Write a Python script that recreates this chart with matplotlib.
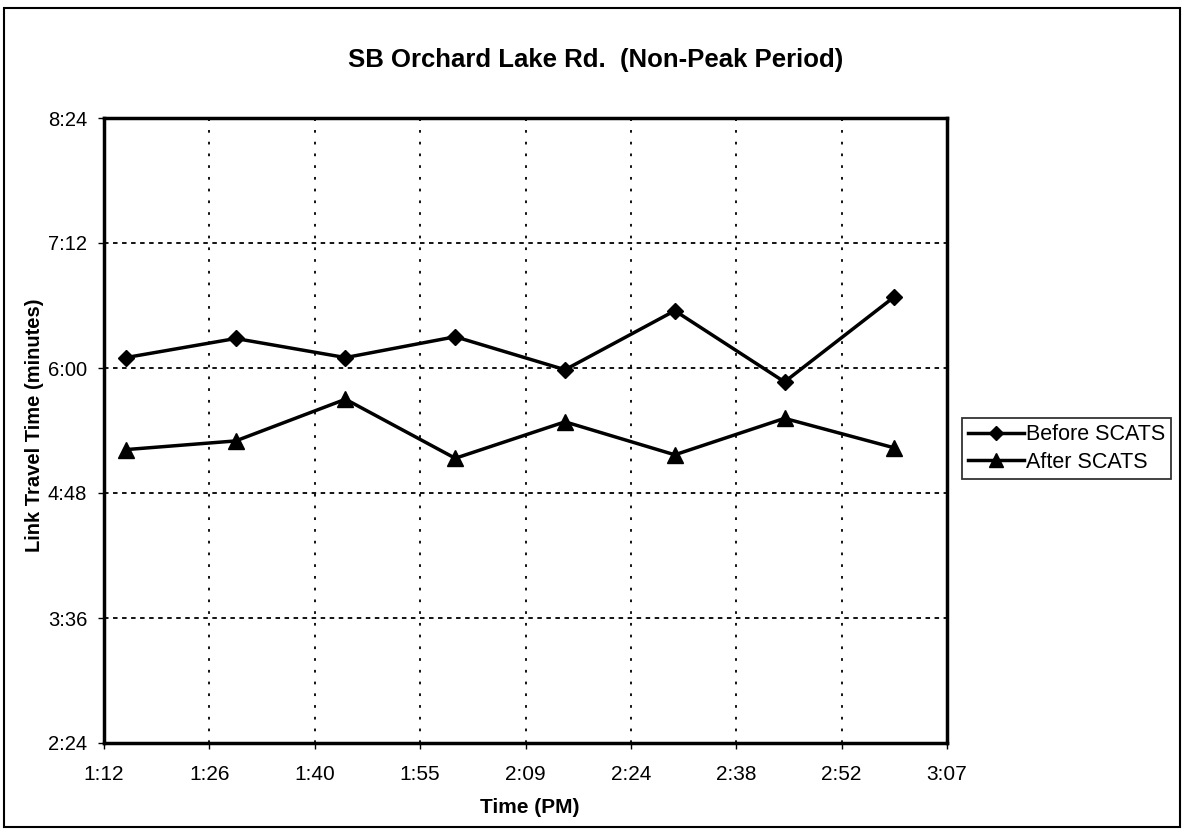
import matplotlib
matplotlib.use("Agg")
import matplotlib.pyplot as plt
from matplotlib.patches import Rectangle

# Data: x = minutes after 12:00 PM, y = link travel time in seconds
times_min = [75, 90, 105, 120, 135, 150, 165, 180]
before_scats = [366, 377, 366, 378, 359, 393, 352, 401]
after_scats = [313, 318, 342, 308, 329, 310, 331, 314]

x_ticks = [72, 86.4, 100.8, 115.2, 129.6, 144, 158.4, 172.8, 187.2]
x_tick_labels = ["1:12", "1:26", "1:40", "1:55", "2:09", "2:24", "2:38", "2:52", "3:07"]
y_ticks = [144, 216, 288, 360, 432, 504]
y_tick_labels = ["2:24", "3:36", "4:48", "6:00", "7:12", "8:24"]

plt.rcParams['font.family'] = ['Liberation Sans', 'DejaVu Sans']

W, H = 1184, 831
fig = plt.figure(figsize=(W / 100, H / 100), dpi=100)
ax = fig.add_axes([104 / W, 1 - 743 / H, (947 - 104) / W, (743 - 118) / H])

ax.plot(times_min, before_scats, color='black', lw=2.5, marker='D', ms=8.5,
        label='Before SCATS', clip_on=False)
ax.plot(times_min, after_scats, color='black', lw=2.5, marker='^', ms=12,
        label='After SCATS', clip_on=False)

ax.set_xlim(x_ticks[0], x_ticks[-1])
ax.set_ylim(y_ticks[0], y_ticks[-1])
ax.set_xticks(x_ticks)
ax.set_xticklabels(x_tick_labels, fontsize=15)
ax.set_yticks(y_ticks)
ax.set_yticklabels(y_tick_labels, fontsize=14.5)
ax.tick_params(axis='both', direction='out', length=4, width=1, colors='black')
ax.tick_params(axis='x', pad=12)
ax.tick_params(axis='y', pad=8)

for v in x_ticks[1:-1]:
    ax.axvline(v, color='black', lw=1.3, ls=(0, (1.5, 5)), zorder=0)
for v in y_ticks[1:-1]:
    ax.axhline(v, color='black', lw=1.3, ls=(0, (2.5, 2.5)), zorder=0)

for s in ax.spines.values():
    s.set_linewidth(2.5)
    s.set_color('black')

ax.set_xlabel('Time (PM)', fontsize=15, fontweight='bold')
ax.xaxis.set_label_coords((530 - 104) / 843, (743 - 813) / 625)
ax.xaxis.label.set_va('baseline')
ax.xaxis.label.set_ha('center')

ax.set_ylabel('Link Travel Time (minutes)', fontsize=14.5, fontweight='bold')
ax.yaxis.set_label_coords((34 - 104) / 843, (743 - 425) / 625)
ax.yaxis.label.set_va('center')
ax.yaxis.label.set_ha('center')

fig.text(596 / W, 1 - 67 / H, 'SB Orchard Lake Rd.  (Non-Peak Period)',
         ha='center', va='baseline', fontsize=18.5, fontweight='bold')

leg = ax.legend(loc='upper left', bbox_to_anchor=(962 / W, 1 - 418 / H),
                bbox_transform=fig.transFigure, frameon=True, fancybox=False,
                edgecolor='black', fontsize=15.5, handlelength=2.6,
                handletextpad=0.05, borderaxespad=0, borderpad=0.3,
                labelspacing=0.3, markerscale=0.8)
leg.get_frame().set_linewidth(1.3)

fig.patches.append(Rectangle((4 / W, 4 / H), (W - 8) / W, (H - 12) / H,
                             transform=fig.transFigure, fill=False,
                             edgecolor='black', lw=1.5))

fig.savefig('out.png', dpi=100, facecolor='white')
